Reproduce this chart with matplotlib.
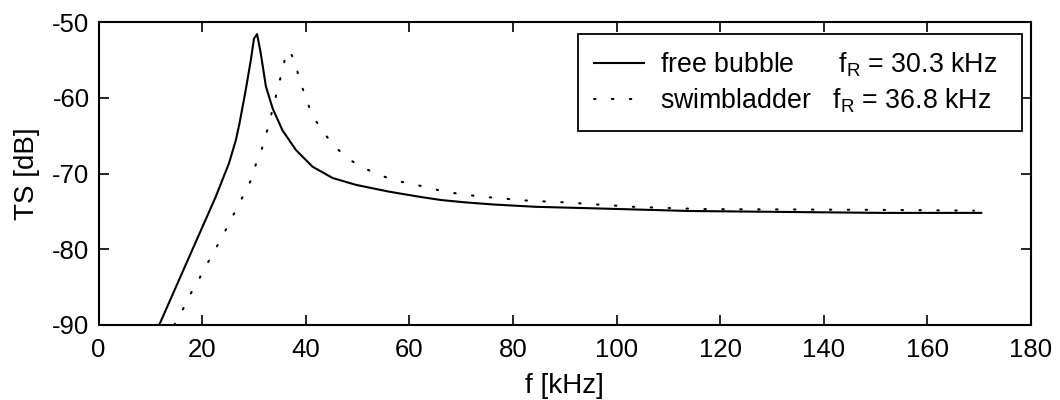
import numpy as np
import matplotlib.pyplot as plt

plt.rcParams['font.family'] = ['Liberation Sans', 'DejaVu Sans']
plt.rcParams['mathtext.fontset'] = 'custom'
plt.rcParams['mathtext.rm'] = 'Liberation Sans'
plt.rcParams['mathtext.it'] = 'Liberation Sans'
plt.rcParams['axes.unicode_minus'] = False

# free bubble, resonance 30.3 kHz
f_free = [11.7, 17.5, 22.6, 25.2, 26.5, 27.2, 28.4, 29.4, 30.0, 30.6, 31.3,
          32.3, 33.6, 35.5, 38.1, 41.3, 45.2, 49.7, 56.1, 62.2, 66.1, 70.6,
          76.4, 84.5, 95.7, 114.1, 151.1, 170.4]
ts_free = [-90.0, -81.0, -73.1, -68.6, -65.6, -63.4, -59.0, -55.0, -52.2, -51.6, -54.1,
           -58.5, -61.4, -64.3, -66.9, -69.1, -70.6, -71.5, -72.4, -73.1, -73.5, -73.8,
           -74.1, -74.4, -74.6, -74.95, -75.2, -75.2]

# swimbladder, resonance 36.8 kHz
f_swim = [14.6, 16.1, 17.5, 19.1, 20.6, 22.1, 23.7, 25.1, 26.6, 28.1, 29.4,
          30.4, 31.5, 32.4, 33.2, 34.0, 34.8, 35.5, 36.3, 36.8, 37.8, 38.6,
          39.6, 40.7, 42.1, 43.9, 46.0, 48.5, 51.3, 54.2, 57.3, 60.3, 63.5,
          66.6, 69.9, 73.2, 76.4, 79.7, 83.2, 89.8, 96.5, 103.3, 116.7, 150.0,
          169.0]
ts_swim = [-90.0, -88.2, -86.2, -84.3, -82.4, -80.5, -78.6, -76.7, -74.7, -72.7, -70.9,
           -68.7, -66.8, -64.7, -62.6, -60.4, -58.3, -56.2, -54.0, -53.8, -55.0, -57.1,
           -59.2, -61.3, -63.2, -65.0, -66.7, -68.2, -69.3, -70.2, -70.9, -71.4, -71.8,
           -72.4, -72.7, -73.0, -73.2, -73.4, -73.6, -73.8, -74.1, -74.4, -74.7, -74.8,
           -74.9]

fig = plt.figure(figsize=(10.6, 4), dpi=100)
ax = fig.add_axes([0.093, 0.1875, 0.8796, 0.7575])

ax.plot(f_free, ts_free, color='black', lw=1.5,
        label='free bubble      $\\mathregular{f_R}$ = 30.3 kHz  ')
ax.plot(f_swim, ts_swim, color='black', lw=1.5, linestyle=(0, (0.7, 7.9)),
        dash_capstyle='round',
        label='swimbladder   $\\mathregular{f_R}$ = 36.8 kHz  ')

ax.set_xlim(0, 180)
ax.set_ylim(-90, -50)
ax.set_xticks(np.arange(0, 181, 20))
ax.set_yticks(np.arange(-90, -49, 10))
ax.tick_params(direction='in', top=True, right=True, length=7, width=1.2,
               labelsize=18.5, pad=9.5)
ax.tick_params(axis='y', pad=6.5)
for s in ax.spines.values():
    s.set_linewidth(1.5)

ax.set_xlabel('f [kHz]', fontsize=20, labelpad=8)
ax.set_ylabel('TS [dB]', fontsize=20, labelpad=9)

leg = ax.legend(loc='upper right', bbox_to_anchor=(1022 / 1060, 1 - 34 / 400),
                bbox_transform=fig.transFigure, borderaxespad=0,
                fontsize=19.3, frameon=True, fancybox=False, framealpha=1,
                edgecolor='black', handlelength=1.85, borderpad=0.6,
                handletextpad=0.6, labelspacing=0.28)
leg.get_frame().set_linewidth(1.3)

plt.savefig('out.png', dpi=100)
